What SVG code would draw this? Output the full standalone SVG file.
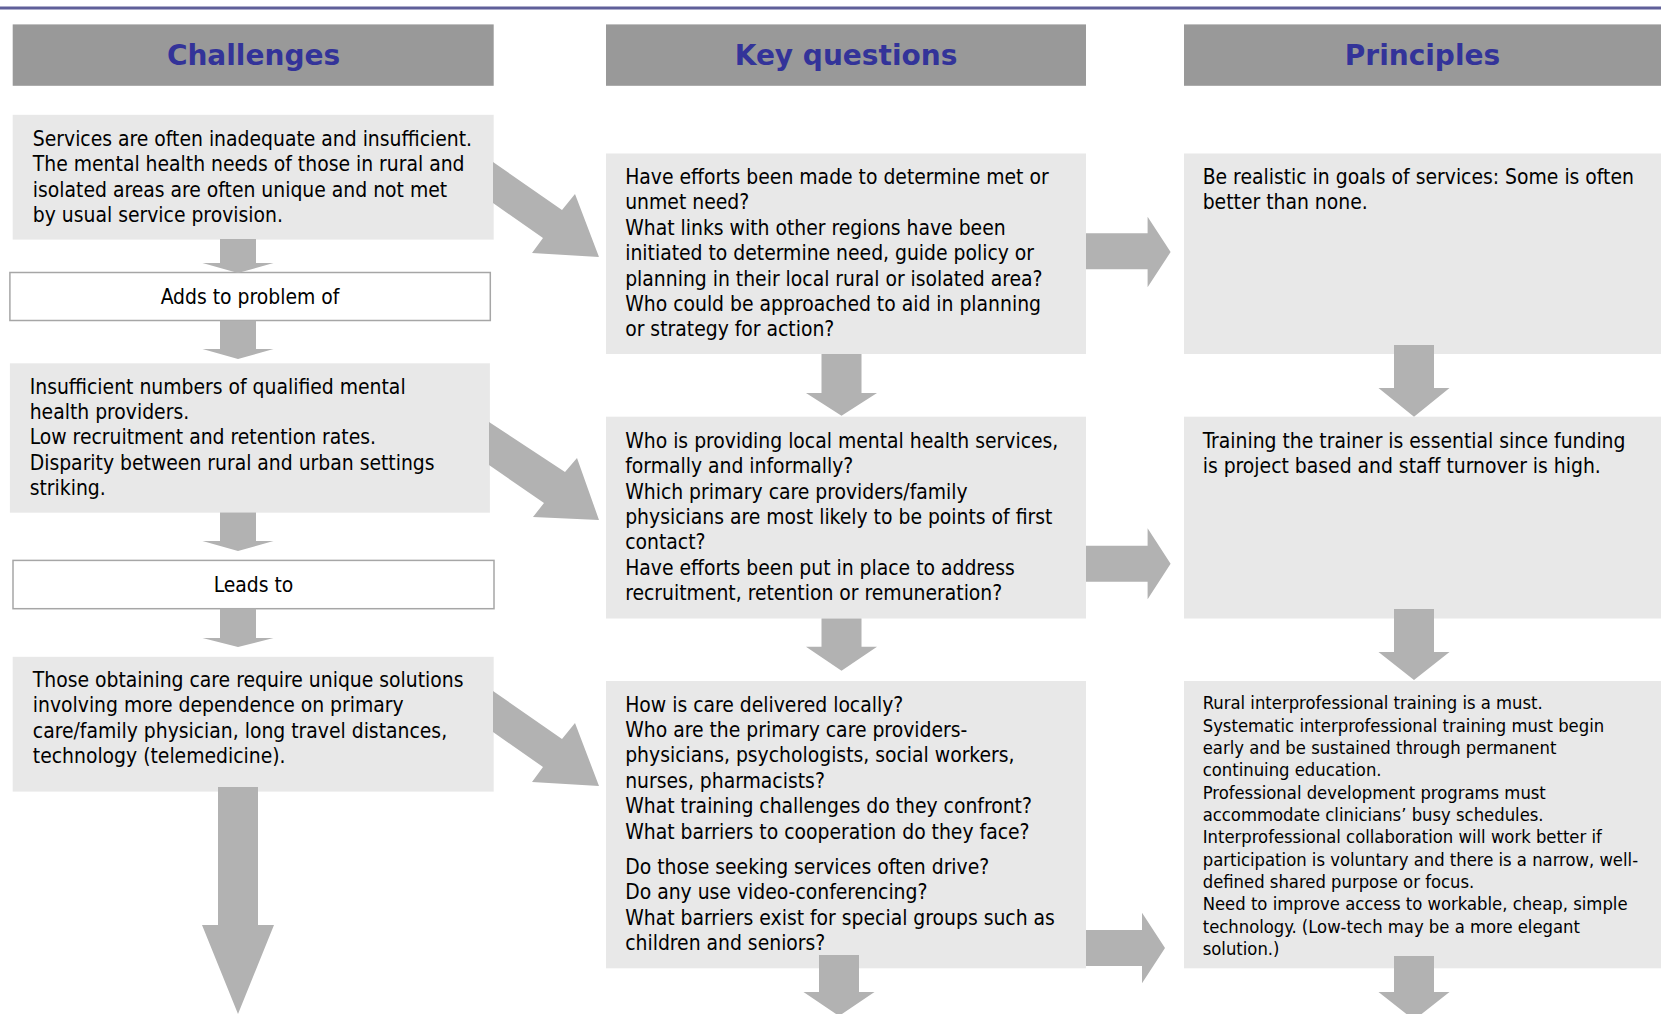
<svg xmlns="http://www.w3.org/2000/svg" width="1661" height="1014" viewBox="0 0 1661 1014">
<style>
.hdr{fill:#999999}
.ttl{font-family:"DejaVu Sans",Verdana,sans-serif;font-weight:bold;font-size:28px;fill:#333399;text-anchor:middle}
.box{fill:#e8e8e8}
.lbl{fill:#ffffff;stroke:#a6a6a6;stroke-width:1.5}
.t{font-family:"DejaVu Sans Condensed","Liberation Sans",sans-serif;font-size:20.9px;fill:#000000}
.s{font-family:"DejaVu Sans Condensed","Liberation Sans",sans-serif;font-size:18.3px;fill:#000000}
.c{text-anchor:middle}
.arr{fill:#b2b2b2}
</style>
<rect x="0" y="6.5" width="1661" height="3" fill="#5f5f99"/>
<g id="hdr-challenges"><rect class="hdr" x="12.7" y="24.4" width="481" height="61.4"/><text class="ttl" x="253.5" y="64.5">Challenges</text></g>
<g id="hdr-keyquestions"><rect class="hdr" x="606" y="24.4" width="480" height="61.4"/><text class="ttl" x="846" y="64.5">Key questions</text></g>
<g id="hdr-principles"><rect class="hdr" x="1184" y="24.4" width="477" height="61.4"/><text class="ttl" x="1422.5" y="64.5">Principles</text></g>

<g id="ch1"><rect class="box" x="12.7" y="114.8" width="481" height="124.8"/>
<text class="t"><tspan x="32.8" y="145.8">Services are often inadequate and insufficient.</tspan><tspan x="32.8" y="171.2">The mental health needs of those in rural and</tspan><tspan x="32.8" y="196.6">isolated areas are often unique and not met</tspan><tspan x="32.8" y="222">by usual service provision.</tspan></text></g>
<g id="adds"><rect class="lbl" x="9.9" y="272.5" width="480.4" height="48"/><text class="t c" x="250" y="303.8">Adds to problem of</text></g>
<g id="ch2"><rect class="box" x="9.9" y="363.3" width="480" height="149.4"/>
<text class="t"><tspan x="29.7" y="393.6">Insufficient numbers of qualified mental</tspan><tspan x="29.7" y="419">health providers.</tspan><tspan x="29.7" y="444.4">Low recruitment and retention rates.</tspan><tspan x="29.7" y="469.8">Disparity between rural and urban settings</tspan><tspan x="29.7" y="495.2">striking.</tspan></text></g>
<g id="leads"><rect class="lbl" x="13" y="560.4" width="481" height="48.3"/><text class="t c" x="253.5" y="591.7">Leads to</text></g>
<g id="ch3"><rect class="box" x="12.7" y="656.8" width="481" height="134.8"/>
<text class="t"><tspan x="32.8" y="687">Those obtaining care require unique solutions</tspan><tspan x="32.8" y="712.4">involving more dependence on primary</tspan><tspan x="32.8" y="737.8">care/family physician, long travel distances,</tspan><tspan x="32.8" y="763.2">technology (telemedicine).</tspan></text></g>

<g id="kq1"><rect class="box" x="606" y="153.5" width="480" height="200.5"/>
<text class="t"><tspan x="625.2" y="184">Have efforts been made to determine met or</tspan><tspan x="625.2" y="209.4">unmet need?</tspan><tspan x="625.2" y="234.8">What links with other regions have been</tspan><tspan x="625.2" y="260.2">initiated to determine need, guide policy or</tspan><tspan x="625.2" y="285.6">planning in their local rural or isolated area?</tspan><tspan x="625.2" y="311">Who could be approached to aid in planning</tspan><tspan x="625.2" y="336.4">or strategy for action?</tspan></text></g>
<g id="kq2"><rect class="box" x="606" y="416.7" width="480" height="201.8"/>
<text class="t"><tspan x="625.2" y="447.7">Who is providing local mental health services,</tspan><tspan x="625.2" y="473.1">formally and informally?</tspan><tspan x="625.2" y="498.5">Which primary care providers/family</tspan><tspan x="625.2" y="523.9">physicians are most likely to be points of first</tspan><tspan x="625.2" y="549.3">contact?</tspan><tspan x="625.2" y="574.7">Have efforts been put in place to address</tspan><tspan x="625.2" y="600.1">recruitment, retention or remuneration?</tspan></text></g>
<g id="kq3"><rect class="box" x="606" y="681" width="480" height="287.3"/>
<text class="t"><tspan x="625.2" y="711.5">How is care delivered locally?</tspan><tspan x="625.2" y="736.9">Who are the primary care providers-</tspan><tspan x="625.2" y="762.3">physicians, psychologists, social workers,</tspan><tspan x="625.2" y="787.7">nurses, pharmacists?</tspan><tspan x="625.2" y="813.1">What training challenges do they confront?</tspan><tspan x="625.2" y="838.5">What barriers to cooperation do they face?</tspan><tspan x="625.2" y="874">Do those seeking services often drive?</tspan><tspan x="625.2" y="899.4">Do any use video-conferencing?</tspan><tspan x="625.2" y="924.8">What barriers exist for special groups such as</tspan><tspan x="625.2" y="950.2">children and seniors?</tspan></text></g>

<g id="p1"><rect class="box" x="1184" y="153.5" width="477" height="200.5"/>
<text class="t"><tspan x="1202.7" y="184">Be realistic in goals of services: Some is often</tspan><tspan x="1202.7" y="209.4">better than none.</tspan></text></g>
<g id="p2"><rect class="box" x="1184" y="416.7" width="477" height="201.8"/>
<text class="t"><tspan x="1202.7" y="447.7">Training the trainer is essential since funding</tspan><tspan x="1202.7" y="473.1">is project based and staff turnover is high.</tspan></text></g>
<g id="p3"><rect class="box" x="1184" y="681" width="477" height="287.3"/>
<text class="s"><tspan x="1202.7" y="709.3">Rural interprofessional training is a must.</tspan><tspan x="1202.7" y="731.6">Systematic interprofessional training must begin</tspan><tspan x="1202.7" y="754">early and be sustained through permanent</tspan><tspan x="1202.7" y="776.3">continuing education.</tspan><tspan x="1202.7" y="798.7">Professional development programs must</tspan><tspan x="1202.7" y="821">accommodate clinicians’ busy schedules.</tspan><tspan x="1202.7" y="843.3">Interprofessional collaboration will work better if</tspan><tspan x="1202.7" y="865.7">participation is voluntary and there is a narrow, well-</tspan><tspan x="1202.7" y="888">defined shared purpose or focus.</tspan><tspan x="1202.7" y="910.3">Need to improve access to workable, cheap, simple</tspan><tspan x="1202.7" y="932.7">technology. (Low-tech may be a more elegant</tspan><tspan x="1202.7" y="955">solution.)</tspan></text></g>

<g id="connectors">
<polygon class="arr" points="220,239 256,239 256,263 273.5,263 238,273 202.5,263 220,263"/>
<polygon class="arr" points="220,320.5 256,320.5 256,349 273.5,349 238,359 202.5,349 220,349"/>
<polygon class="arr" points="220,512.5 256,512.5 256,541 273.5,541 238,551 202.5,541 220,541"/>
<polygon class="arr" points="220,608.5 256,608.5 256,638 273.5,638 238,647 202.5,638 220,638"/>
<polygon class="arr" points="218,787 258,787 258,925 274,925 238,1014 202,925 218,925"/>
<polygon class="arr" points="493,162 562,210 575,194 599,257 532,253 543,238 493,203"/>
<polygon class="arr" points="489,422 565,472 577,458 599,520 533,517 544,503 489,465"/>
<polygon class="arr" points="493,691 562,739 575,723 599,786 532,782 543,767 493,732"/>
<polygon class="arr" points="821.5,354 861.5,354 861.5,393 877,393 841.5,415.7 806,393 821.5,393"/>
<polygon class="arr" points="821.5,618.5 861.5,618.5 861.5,646.7 877,646.7 841.5,670.7 806,646.7 821.5,646.7"/>
<polygon class="arr" points="819,955 859,955 859,992 874.5,992 839,1016 803.5,992 819,992"/>
<polygon class="arr" points="1086,233.3 1147.6,233.3 1147.6,216.7 1170.6,252 1147.6,287.3 1147.6,269.3 1086,269.3"/>
<polygon class="arr" points="1086,545.7 1147.6,545.7 1147.6,528.3 1170.6,563.8 1147.6,599.3 1147.6,581.7 1086,581.7"/>
<polygon class="arr" points="1086,930 1142,930 1142,912.7 1165,948 1142,983.3 1142,966 1086,966"/>
<polygon class="arr" points="1394,345 1434,345 1434,388 1449.5,388 1414,416.7 1378.5,388 1394,388"/>
<polygon class="arr" points="1394,609 1434,609 1434,652 1449.5,652 1414,680 1378.5,652 1394,652"/>
<polygon class="arr" points="1394,956 1434,956 1434,992 1449.5,992 1414,1020 1378.5,992 1394,992"/>
</g>
</svg>
